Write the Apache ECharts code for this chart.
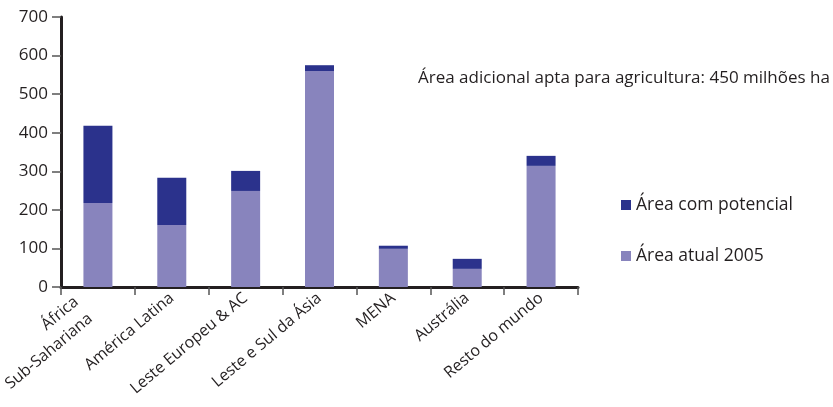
<!DOCTYPE html>
<html>
<head>
<meta charset="utf-8">
<script src="https://cdn.jsdelivr.net/npm/echarts@6/dist/echarts.min.js"></script>
<style>
  html, body { margin: 0; padding: 0; background: #fff; }
  #chart { width: 833px; height: 407px; }
</style>
</head>
<body>
<div id="chart"></div>
<script>
const categories = [
  'África\nSub-Sahariana',
  'América Latina',
  'Leste Europeu & AC',
  'Leste e Sul da Ásia',
  'MENA',
  'Austrália',
  'Resto do mundo'
]
const areaAtual = [218, 161, 249, 560, 99, 47, 314]
const areaPotencial = [200, 122, 52, 15, 8, 26, 26]
const yTicks = { min: 0, max: 700, interval: 100 }
const note = 'Área adicional apta para agricultura: 450 milhões ha'

const font = '"Open Sans", sans-serif'
const textColor = '#231f20'

// the two-line label sits a bit lower/left than the others
const xData = categories.map(c =>
  c.indexOf('\n') >= 0 ? { value: c, textStyle: { padding: [8, 19, 0, 0] } } : c
)

const chart = echarts.init(document.getElementById('chart'))
chart.setOption({
  backgroundColor: '#fff',
  animation: false,
  textStyle: { fontFamily: font, color: textColor },
  title: {
    text: note,
    left: 413,
    top: 65,
    textStyle: { fontFamily: font, fontSize: 17, fontWeight: 'normal', color: textColor }
  },
  legend: {
    data: ['Área com potencial', 'Área atual 2005'],
    orient: 'vertical',
    left: 616,
    top: 191,
    itemWidth: 10,
    itemHeight: 10,
    itemGap: 33,
    icon: 'rect',
    textStyle: { fontFamily: font, fontSize: 17.5, color: textColor }
  },
  grid: { left: 61, right: 255, top: 17, bottom: 120, outerBoundsMode: 'none' },
  xAxis: {
    type: 'category',
    data: xData,
    axisLine: { lineStyle: { color: '#231f20', width: 3 } },
    axisTick: { show: true, length: 8, lineStyle: { color: '#555', width: 1.5 } },
    axisLabel: {
      rotate: 40,
      interval: 0,
      fontSize: 16,
      color: textColor,
      margin: 9,
      lineHeight: 22
    }
  },
  yAxis: {
    type: 'value',
    min: yTicks.min,
    max: yTicks.max,
    interval: yTicks.interval,
    splitLine: { show: false },
    axisLine: { show: true, lineStyle: { color: '#231f20', width: 3 } },
    axisTick: { show: true, length: 9, lineStyle: { color: '#555', width: 1.5 } },
    axisLabel: { fontSize: 17, color: textColor, margin: 13 }
  },
  series: [
    {
      name: 'Área atual 2005',
      type: 'bar',
      stack: 'area',
      data: areaAtual,
      barWidth: 29,
      itemStyle: { color: '#8884bd' }
    },
    {
      name: 'Área com potencial',
      type: 'bar',
      stack: 'area',
      data: areaPotencial,
      barWidth: 29,
      itemStyle: { color: '#2b328c' }
    }
  ]
})
</script>
</body>
</html>
